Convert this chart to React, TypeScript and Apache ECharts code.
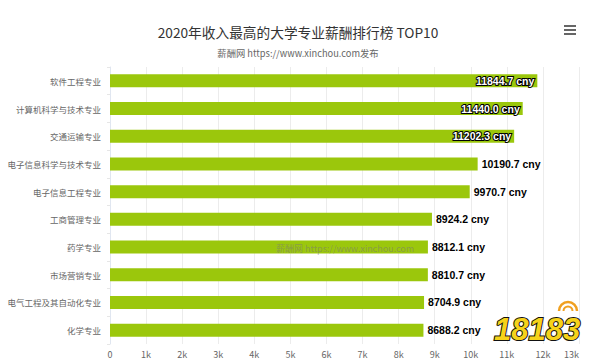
import React, { useEffect, useRef } from "react";
import * as echarts from "echarts";

const categories = [
  "软件工程专业",
  "计算机科学与技术专业",
  "交通运输专业",
  "电子信息科学与技术专业",
  "电子信息工程专业",
  "工商管理专业",
  "药学专业",
  "市场营销专业",
  "电气工程及其自动化专业",
  "化学专业",
];
const salaries = [11844.7, 11440.0, 11202.3, 10190.7, 9970.7, 8924.2, 8812.1, 8810.7, 8704.9, 8688.2];
const insideThreshold = 11000;
const titleText = "2020年收入最高的大学专业薪酬排行榜 TOP10";
const subtitleText = "薪酬网 https://www.xinchou.com发布";
const watermarkText = "薪酬网 https://www.xinchou.com";

export default function App() {
  const ref = useRef<HTMLDivElement>(null);
  useEffect(() => {
    if (!ref.current) return;
    const chart = echarts.init(ref.current, undefined, { renderer: "svg" });
    const cjk = "'Noto Sans CJK SC', 'Liberation Sans', sans-serif";
    const data = salaries.map((v) => {
      const inside = v > insideThreshold;
      return {
        value: v,
        label: inside
          ? {
              position: "insideRight",
              color: "#fff",
              textBorderColor: "#000",
              textBorderWidth: 2,
              offset: [2, 0],
            }
          : { position: "right", color: "#000", distance: 4 },
      };
    });
    chart.setOption({
      animation: false,
      backgroundColor: "#fff",
      title: [
        {
          text: titleText,
          left: 293,
          top: 20,
          textAlign: "center",
          textStyle: { fontFamily: cjk, fontSize: 13.7, fontWeight: "normal", color: "#333" },
        },
        {
          text: subtitleText,
          left: 293,
          top: 43,
          textAlign: "center",
          textStyle: { fontFamily: cjk, fontSize: 9.3, fontWeight: "normal", color: "#666" },
        },
      ],
      grid: { left: 110, right: 21, top: 67, bottom: 19, containLabel: false },
      xAxis: {
        type: "value",
        min: 0,
        max: 13000,
        interval: 1000,
        axisLabel: {
          formatter: (v: number) => (v === 0 ? "0" : v / 1000 + "k"),
          color: "#666",
          fontSize: 9,
          fontFamily: cjk,
          margin: 6,
          alignMaxLabel: "right",
        },
        axisLine: { show: false },
        axisTick: { show: false },
        splitLine: { show: true, lineStyle: { color: "#ececec", width: 1 } },
      },
      yAxis: {
        type: "category",
        data: categories,
        inverse: true,
        axisLine: { show: true, lineStyle: { color: "#e0e6f0" } },
        axisTick: { show: true, length: 3, lineStyle: { color: "#e6e6e6" } },
        axisLabel: { color: "#666", fontSize: 8.5, fontFamily: cjk, margin: 9 },
      },
      series: [
        {
          type: "bar",
          data,
          barWidth: 13,
          itemStyle: { color: "#9bc70c" },
          label: {
            show: true,
            formatter: (p: any) => p.value.toFixed(1) + " cny",
            fontFamily: "'Liberation Sans', Arial, sans-serif",
            fontWeight: "bold",
            fontSize: 10.5,
          },
        },
      ],
      graphic: [
        {
          type: "text",
          left: 276,
          top: 244,
          style: {
            text: watermarkText,
            fill: "rgba(120,120,120,0.55)",
            font: "9px 'Noto Sans CJK SC', sans-serif",
          },
          z: 100,
        },
        { type: "rect", shape: { x: 564, y: 25, width: 12, height: 2 }, style: { fill: "#666" } },
        { type: "rect", shape: { x: 564, y: 29, width: 12, height: 2 }, style: { fill: "#666" } },
        { type: "rect", shape: { x: 564, y: 33, width: 12, height: 2 }, style: { fill: "#666" } },
        {
          type: "arc",
          shape: { cx: 568, cy: 311, r: 9, startAngle: Math.PI, endAngle: 2 * Math.PI },
          style: { stroke: "#f0a020", lineWidth: 2.5, fill: "none" },
          z: 99,
        },
        {
          type: "arc",
          shape: { cx: 568, cy: 311, r: 4.5, startAngle: Math.PI, endAngle: 2 * Math.PI },
          style: { stroke: "#f0a020", lineWidth: 2, fill: "none" },
          z: 99,
        },
        {
          type: "text",
          left: 493,
          top: 313,
          style: {
            text: "18183",
            fill: "#f6d21a",
            stroke: "#111",
            lineWidth: 2,
            font: "italic bold 31px 'Liberation Sans', sans-serif",
          },
          z: 100,
        },
      ],
    });
    return () => chart.dispose();
  }, []);
  return <div ref={ref} style={{ width: 600, height: 363, position: "absolute", left: 0, top: 0 }} />;
}
